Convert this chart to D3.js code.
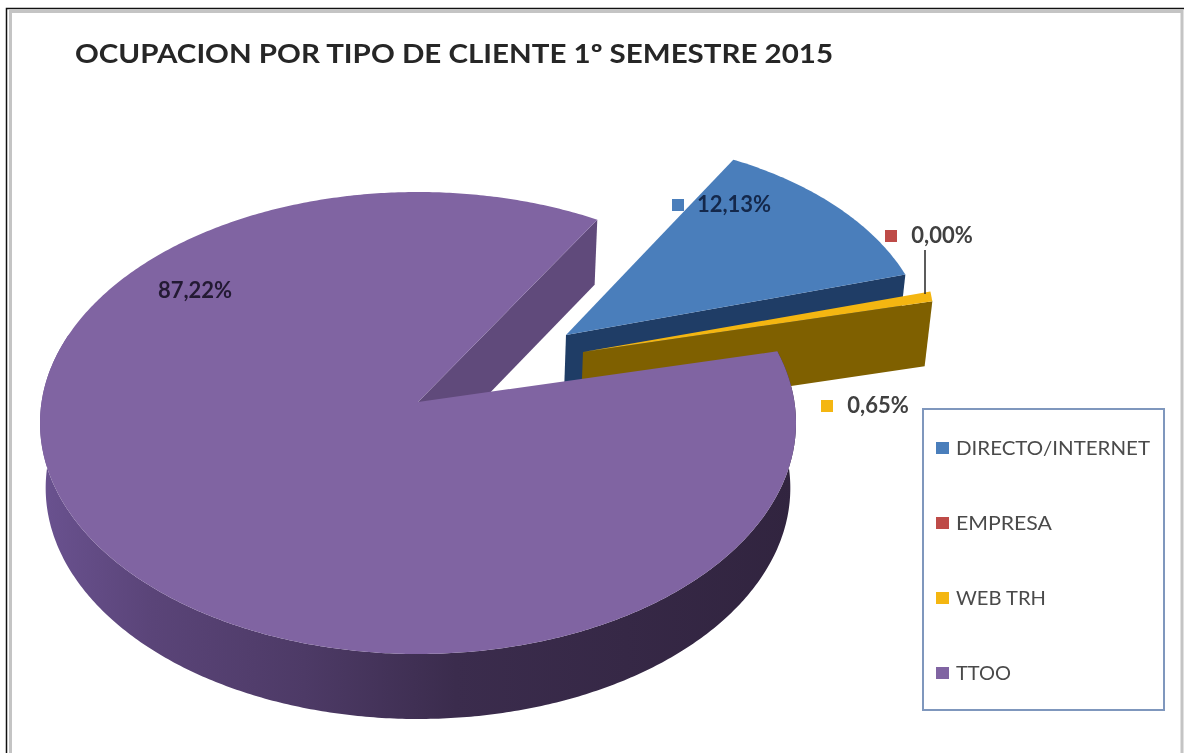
<!DOCTYPE html>
<html lang="es">
<head>
    <meta charset="UTF-8">
    <title>Ocupacion por tipo de cliente</title>
    <script src="https://d3js.org/d3.v7.min.js"></script>
    <style>
        html, body { margin: 0; padding: 0; background: #fff; overflow: hidden; }
        svg { display: block; filter: blur(0.7px); }
        text { font-family: Lato, "Open Sans", sans-serif; }
    </style>
</head>
<body>
    <script>
        var width = 1184;
        var height = 753;

        const titleText = "OCUPACION POR TIPO DE CLIENTE 1º SEMESTRE 2015";
        const categories = ["DIRECTO/INTERNET", "EMPRESA", "WEB TRH", "TTOO"];
        const values = [12.13, 0.00, 0.65, 87.22];
        const topColors = ["#4a7ebb", "#be4b48", "#f4b611", "#8064a2"];
        const wallColors = ["#1f3d66", "#7a2e2c", "#7f6000", "#604a7b"];

        // where the slices sit on the page
        const cx = 418, cy = 423, rx = 378, ry = 231;
        const apexY = 402;        // apex sits above the ellipse centre (perspective)
        const depth = 65;
        const shrink = 0.985;     // lower rim is a bit narrower
        const offsets = [
            {apex: [148, -67], rimStart: [136, -60], rimEnd: [133, -68]},
            {apex: [165, -50], rimStart: [158, -51], rimEnd: [155, -50]},
            {apex: [165, -50], rimStart: [158, -51], rimEnd: [155, -50]},
            {apex: [0, 0], rimStart: [0, 0], rimEnd: [0, 0]}
        ];
        const labelPos = [
            {x: 734, y: 205, marker: 672},
            {x: 942, y: 236, marker: 885},
            {x: 878, y: 406, marker: 821},
            {x: 195, y: 291, marker: null}
        ];

        var svg = d3.select("body").append("svg")
            .attr("width", width)
            .attr("height", height);

        svg.append("rect").attr("width", width).attr("height", height).attr("fill", "#fff");

        // frame (open at the bottom, the picture cuts it off)
        svg.append("path")
            .attr("d", "M6.5,753V8.5H1184")
            .attr("fill", "none").attr("stroke", "#111").attr("stroke-width", 1.5);
        svg.append("path")
            .attr("d", "M10.5,753V11.5H1182V753")
            .attr("fill", "none").attr("stroke", "#c4c4c4").attr("stroke-width", 3);

        var defs = svg.append("defs");
        var grad = defs.append("linearGradient").attr("id", "sideGrad")
            .attr("gradientUnits", "userSpaceOnUse")
            .attr("x1", 40).attr("x2", 796).attr("y1", 0).attr("y2", 0);
        grad.append("stop").attr("offset", "0").attr("stop-color", "#6a5290");
        grad.append("stop").attr("offset", "0.15").attr("stop-color", "#5a4478");
        grad.append("stop").attr("offset", "0.35").attr("stop-color", "#4d3a66");
        grad.append("stop").attr("offset", "0.55").attr("stop-color", "#3b2c4d");
        grad.append("stop").attr("offset", "1").attr("stop-color", "#31243f");

        var pie = d3.pie().sort(null).value(d => d)
            .startAngle(31 * Math.PI / 180)
            .endAngle((31 + 360) * Math.PI / 180);
        var slices = pie(values);

        // ray from the apex to the ellipse, in unit-circle space
        function rimPoint(a) {
            var ay = (apexY - cy) / ry;
            var dx = Math.sin(a), dy = -Math.cos(a);
            var b = ay * dy;
            var t = -b + Math.sqrt(b * b - ay * ay + 1);
            return [cx + rx * t * dx, cy + ry * (ay + t * dy)];
        }
        function moved(p, o) { return [p[0] + o[0], p[1] + o[1]]; }
        function lower(p) {
            return [cx + (p[0] - cx) * shrink, p[1] + depth];
        }
        function rimPoints(s, i) {
            var n = Math.max(2, Math.ceil((s.endAngle - s.startAngle) / 0.01));
            var o = offsets[i];
            return d3.range(n + 1).map(k => {
                var f = k / n;
                var a = s.startAngle + (s.endAngle - s.startAngle) * f;
                return moved(rimPoint(a), [
                    o.rimStart[0] + (o.rimEnd[0] - o.rimStart[0]) * f,
                    o.rimStart[1] + (o.rimEnd[1] - o.rimStart[1]) * f
                ]);
            });
        }
        var line = d3.line();

        slices.forEach((s, i) => {
            if (s.value === 0) return;
            var rim = rimPoints(s, i);
            var apex = moved([cx, apexY], offsets[i].apex);
            var g = svg.append("g").attr("class", "slice");

            // cut face from the apex to the far end of the rim
            var last = rim[rim.length - 1];
            g.append("path")
                .attr("d", line([apex, last, lower(last), lower(apex)]) + "Z")
                .attr("fill", wallColors[i]);

            if (i === 3) {
                // outer wall along the front of the big slice
                var front = rim.filter(p => p[1] > cy - 90);
                g.append("path")
                    .attr("d", line(front.concat(front.slice().reverse().map(lower))) + "Z")
                    .attr("fill", "url(#sideGrad)");
            }
            g.append("path")
                .attr("d", line([apex].concat(rim)) + "Z")
                .attr("fill", topColors[i]);
        });

        // title
        svg.append("text")
            .attr("x", 75).attr("y", 63)
            .attr("font-size", 26).attr("font-weight", 700)
            .attr("fill", "#262626")
            .attr("textLength", 758).attr("lengthAdjust", "spacingAndGlyphs")
            .text(titleText);

        // leader line for the empty slice
        svg.append("line")
            .attr("x1", 925).attr("x2", 925).attr("y1", 250).attr("y2", 294)
            .attr("stroke", "#262626").attr("stroke-width", 1.5);

        // data labels
        var fmt = d => d.toFixed(2).replace(".", ",") + "%";
        values.forEach((v, i) => {
            var p = labelPos[i];
            svg.append("text")
                .attr("x", p.x).attr("y", p.y + 7)
                .attr("text-anchor", "middle")
                .attr("font-size", 22).attr("font-weight", 700)
                .attr("fill", i === 0 ? "#14284b" : (i === 3 ? "#231a33" : "#404040"))
                .text(fmt(v));
            if (p.marker !== null) {
                svg.append("rect")
                    .attr("x", p.marker).attr("y", p.y - 6)
                    .attr("width", 12).attr("height", 12)
                    .attr("fill", topColors[i]);
            }
        });

        // legend
        var legendBox = {x: 923, y: 409, w: 241, h: 301};
        svg.append("rect")
            .attr("x", legendBox.x).attr("y", legendBox.y)
            .attr("width", legendBox.w).attr("height", legendBox.h)
            .attr("fill", "#fff").attr("stroke", "#7f97bd").attr("stroke-width", 2);

        var legendY = d3.scalePoint().domain(categories).range([448, 673]);
        var legendWidths = {"DIRECTO/INTERNET": 194, "EMPRESA": 96, "WEB TRH": 90, "TTOO": 55};
        categories.forEach((c, i) => {
            svg.append("rect")
                .attr("x", 936).attr("y", legendY(c) - 6)
                .attr("width", 13).attr("height", 12)
                .attr("fill", topColors[i]);
            svg.append("text")
                .attr("x", 956).attr("y", legendY(c) + 7)
                .attr("font-size", 20)
                .attr("fill", "#4a4a4a")
                .attr("textLength", legendWidths[c]).attr("lengthAdjust", "spacingAndGlyphs")
                .text(c);
        });
    </script>
</body>
</html>
